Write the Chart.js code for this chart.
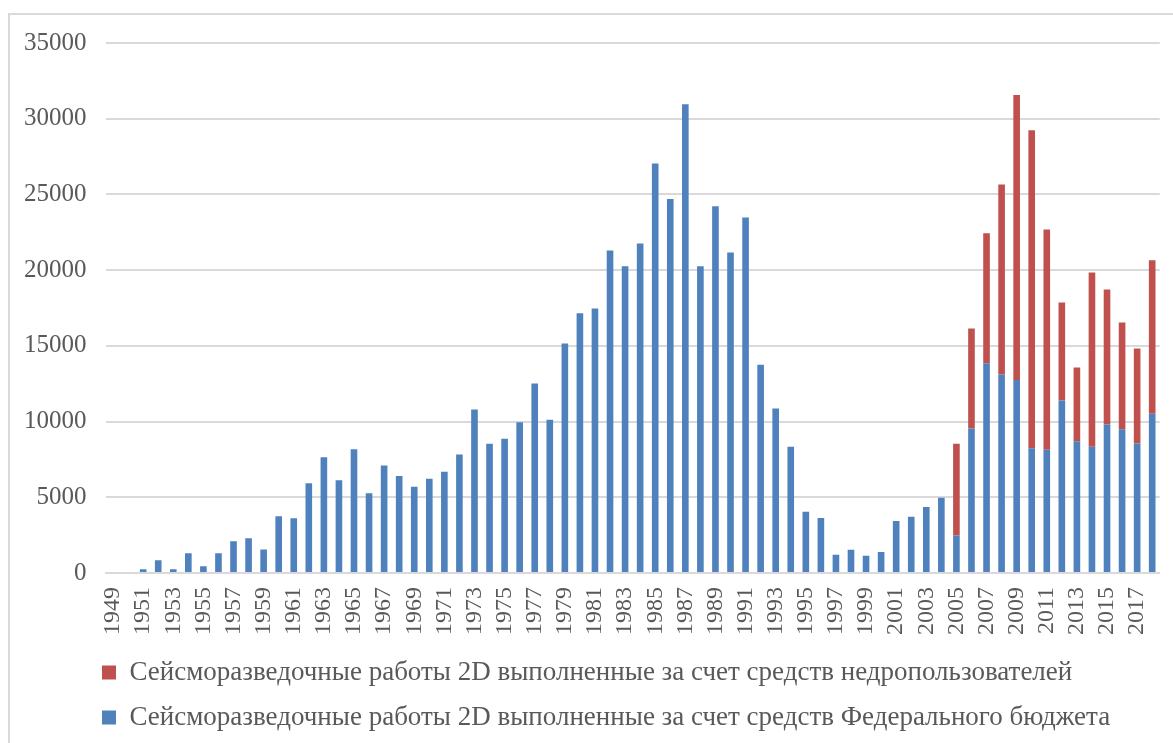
<!DOCTYPE html>
<html>
<head>
<meta charset="utf-8">
<script src="https://cdn.jsdelivr.net/npm/chart.js@4"></script>
<style>
  body { margin: 0; background: #fff; overflow: hidden; }
  #frame {
    position: absolute; left: 8px; top: 13px;
    width: 1180px; height: 740px;
    border: 2px solid #d9d9d9; box-sizing: border-box;
  }
  #wrap { position: absolute; left: 0; top: 0; width: 1187px; height: 741px; }
</style>
</head>
<body>
<div id="frame"></div>
<div id="wrap"><canvas id="myChart" width="1187" height="741"></canvas></div>
<script>
// years on the x axis
const years = [];
for (let y = 1949; y <= 2018; y++) years.push(String(y));

// 2D seismic, federal budget
const federal = [
  0, 0, 250, 840, 250, 1300, 440, 1300, 2090, 2290,            // 1949-1958
  1560, 3750, 3610, 5930, 7650, 6130, 8180, 5270, 7100, 6400,  // 1959-1968
  5700, 6220, 6680, 7820, 10790, 8540, 8860, 9950, 12510, 10120, // 1969-1978
  15150, 17150, 17470, 21300, 20260, 21760, 27050, 24690, 30950, 20260, // 1979-1988
  24220, 21160, 23480, 13760, 10860, 8330, 4040, 3640, 1210, 1530, // 1989-1998
  1140, 1390, 3430, 3710, 4360, 4970, 2480, 9540, 13850, 13110, // 1999-2008
  12740, 8240, 8140, 11390, 8700, 8330, 9810, 9490, 8560, 10510 // 2009-2018
];

// 2D seismic, subsoil users
const subsoil = [
  0, 0, 0, 0, 0, 0, 0, 0, 0, 0,
  0, 0, 0, 0, 0, 0, 0, 0, 0, 0,
  0, 0, 0, 0, 0, 0, 0, 0, 0, 0,
  0, 0, 0, 0, 0, 0, 0, 0, 0, 0,
  0, 0, 0, 0, 0, 0, 0, 0, 0, 0,
  0, 0, 0, 0, 0, 0, 6060, 6610, 8590, 12550,
  18820, 20990, 14550, 6480, 4870, 11510, 8910, 7050, 6270, 10140
];

const yTicks = [0, 5000, 10000, 15000, 20000, 25000, 30000, 35000];

const labelFederal = "Сейсморазведочные работы 2D выполненные за счет средств Федерального бюджета";
const labelSubsoil = "Сейсморазведочные работы 2D выполненные за счет средств недропользователей";

const textColor = "#595959";
const serif = "'Liberation Serif', 'Times New Roman', serif";

// push the legend so its rows start under the plot, like the original
const legendShift = {
  id: "legendShift",
  afterLayout(chart) {
    chart.legend.left = 84;
  }
};

const ctx = document.getElementById("myChart");
new Chart(ctx, {
  type: "bar",
  data: {
    labels: years,
    datasets: [
      {
        label: labelFederal,
        data: federal,
        backgroundColor: "#4f81bd",
        barPercentage: 0.44,
        categoryPercentage: 1,
      },
      {
        label: labelSubsoil,
        data: subsoil,
        backgroundColor: "#c0504d",
        barPercentage: 0.44,
        categoryPercentage: 1,
      },
    ],
  },
  options: {
    responsive: false,
    animation: false,
    layout: { padding: { top: 43, right: 0, left: 5, bottom: 0 } },
    scales: {
      x: {
        stacked: true,
        grid: { display: false },
        border: { color: "#d9d9d9", width: 2 },
        ticks: {
          autoSkip: false,
          maxRotation: 90,
          minRotation: 90,
          padding: 6,
          color: textColor,
          font: { family: serif, size: 24 },
          callback: function (v, i) {
            return i % 2 === 0 ? years[i] : "";
          },
        },
      },
      y: {
        stacked: true,
        min: 0,
        max: 35000,
        afterBuildTicks: function (axis) {
          axis.ticks = yTicks.map(function (v) { return { value: v }; });
        },
        grid: { color: "#d9d9d9", lineWidth: 2, drawTicks: false },
        border: { display: false },
        ticks: {
          padding: 19,
          color: textColor,
          font: { family: serif, size: 25 },
          callback: function (v) { return String(v); },
        },
      },
    },
    plugins: {
      tooltip: { enabled: false },
      legend: {
        position: "bottom",
        align: "start",
        reverse: true,
        labels: {
          boxWidth: 14,
          boxHeight: 14,
          padding: 18,
          color: textColor,
          font: { family: serif, size: 27 },
        },
      },
    },
  },
  plugins: [legendShift],
});
</script>
</body>
</html>
